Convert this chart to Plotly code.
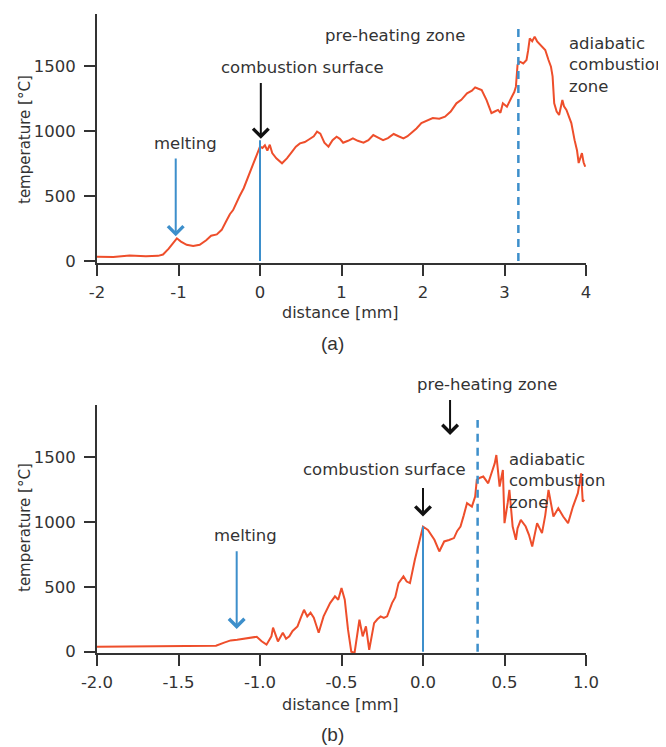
import plotly.graph_objects as go

# ---------------- data ----------------
# panel (a)
dist_a = [-2.0, -1.8, -1.6, -1.4, -1.25, -1.19, -1.12, -1.06, -1.02, -0.97, -0.9, -0.82, -0.74,
          -0.66, -0.6, -0.53, -0.47, -0.42, -0.37, -0.33, -0.29, -0.25, -0.2, -0.16, -0.12,
          -0.08, -0.04, 0.0, 0.03, 0.06, 0.09, 0.12, 0.15, 0.2, 0.27, 0.33, 0.38, 0.44, 0.49,
          0.55, 0.6, 0.66, 0.7, 0.74, 0.79, 0.84, 0.89, 0.94, 0.98, 1.02, 1.08, 1.14, 1.2,
          1.27, 1.33, 1.39, 1.45, 1.51, 1.57, 1.64, 1.7, 1.76, 1.81, 1.86, 1.92, 1.98, 2.05,
          2.12, 2.2, 2.27, 2.34, 2.41, 2.47, 2.54, 2.6, 2.64, 2.68, 2.72, 2.78, 2.84, 2.88,
          2.92, 2.95, 2.98, 3.03, 3.06, 3.09, 3.12, 3.14, 3.16, 3.19, 3.23, 3.27, 3.29, 3.31,
          3.34, 3.37, 3.4, 3.44, 3.47, 3.5, 3.54, 3.57, 3.59, 3.61, 3.64, 3.67, 3.71, 3.73,
          3.76, 3.79, 3.82, 3.86, 3.89, 3.91, 3.93, 3.95, 3.97, 3.99]
temp_a = [33, 32, 42, 36, 40, 50, 95, 140, 175, 150, 125, 115, 125, 160, 195, 205, 240, 300,
          360, 392, 450, 500, 560, 623, 680, 754, 820, 880, 870, 890, 850, 895, 830, 790, 752,
          790, 830, 880, 905, 915, 935, 960, 995, 980, 910, 880, 930, 956, 940, 910, 925, 944,
          925, 910, 930, 969, 950, 930, 945, 977, 960, 944, 960, 985, 1020, 1061, 1080, 1100,
          1095, 1110, 1150, 1213, 1240, 1290, 1310, 1336, 1325, 1315, 1238, 1138, 1150, 1162,
          1140, 1213, 1187, 1230, 1264, 1300, 1341, 1508, 1533, 1520, 1546, 1620, 1713, 1690,
          1726, 1690, 1662, 1640, 1623, 1546, 1495, 1420, 1213, 1150, 1123, 1238, 1190, 1162,
          1110, 1061, 930, 850, 754, 800, 830, 760, 725]

# panel (b)
dist_b = [-2.0, -1.8, -1.6, -1.4, -1.27, -1.22, -1.18, -1.14, -1.1, -1.06, -1.02, -0.99,
          -0.96, -0.93, -0.92, -0.89, -0.86, -0.84, -0.82, -0.8, -0.77, -0.75, -0.73, -0.71,
          -0.69, -0.67, -0.64, -0.61, -0.59, -0.57, -0.54, -0.52, -0.5, -0.48, -0.46, -0.44,
          -0.42, -0.4, -0.39, -0.37, -0.35, -0.33, -0.3, -0.28, -0.26, -0.24, -0.22, -0.19,
          -0.17, -0.15, -0.12, -0.1, -0.08, -0.05, -0.02, 0.0, 0.03, 0.05, 0.07, 0.1, 0.13,
          0.16, 0.19, 0.21, 0.23, 0.25, 0.27, 0.3, 0.32, 0.33, 0.35, 0.37, 0.4, 0.42, 0.44,
          0.45, 0.47, 0.49, 0.5, 0.52, 0.53, 0.55, 0.57, 0.58, 0.6, 0.63, 0.65, 0.67, 0.7,
          0.73, 0.75, 0.77, 0.8, 0.83, 0.86, 0.89, 0.92, 0.95, 0.97, 0.98, 0.99]
temp_b = [38, 39, 41, 44, 46, 70, 87, 92, 100, 105, 115, 80, 54, 118, 185, 79, 146, 100, 118,
          160, 195, 260, 323, 272, 300, 262, 146, 272, 330, 374, 426, 400, 490, 400, 170, 0,
          -10, 150, 246, 118, 195, 15, 220, 250, 272, 260, 272, 374, 420, 528, 580, 540, 528,
          708, 862, 964, 938, 900, 862, 772, 849, 860, 875, 930, 964, 1050, 1144, 1118, 1195,
          1323, 1340, 1349, 1297, 1374, 1450, 1515, 1272, 1400, 990, 1150, 1246, 964, 862,
          950, 1015, 964, 900, 810, 990, 913, 1050, 1246, 1041, 1105, 1041, 990, 1118, 1221,
          1374, 1156, 1169]

# reference lines: (solid at combustion surface, dashed at adiabatic boundary)
surf_a, zone_a = 0.0, 3.17
surf_b, zone_b = 0.0, 0.335
surf_top_a, zone_top_a = 930, 1790
surf_top_b, zone_top_b = 964, 1785

xticks_a = [-2, -1, 0, 1, 2, 3, 4]
xlabels_a = ["-2", "-1", "0", "1", "2", "3", "4"]
xticks_b = [-2.0, -1.5, -1.0, -0.5, 0.0, 0.5, 1.0]
xlabels_b = ["-2.0", "-1.5", "-1.0", "-0.5", "0.0", "0.5", "1.0"]
yticks = [0, 500, 1000, 1500]

# ---------------- styling ----------------
OFF = 8                      # page body margin
W, H = 666 - OFF, 747 - OFF
RED = "#EE4E2B"
BLUE = "#3D8FCB"
AX = "#333333"
FONT = "DejaVu Sans"
FS = 16.5

def px(x):
    return (x - OFF) / W

def py(y):
    return 1 - (y - OFF) / H

fig = go.Figure()
fig.add_trace(go.Scatter(x=dist_a, y=temp_a, mode="lines", line=dict(color=RED, width=2),
                         xaxis="x", yaxis="y", showlegend=False))
fig.add_trace(go.Scatter(x=dist_b, y=temp_b, mode="lines", line=dict(color=RED, width=2),
                         xaxis="x2", yaxis="y2", showlegend=False))

# vertical reference lines
fig.add_trace(go.Scatter(x=[surf_a, surf_a], y=[0, surf_top_a], mode="lines",
                         line=dict(color=BLUE, width=2), xaxis="x", yaxis="y", showlegend=False))
fig.add_trace(go.Scatter(x=[zone_a, zone_a], y=[0, zone_top_a], mode="lines",
                         line=dict(color=BLUE, width=2.5, dash="8px,6px"), xaxis="x", yaxis="y",
                         showlegend=False))
fig.add_trace(go.Scatter(x=[surf_b, surf_b], y=[0, surf_top_b], mode="lines",
                         line=dict(color=BLUE, width=2), xaxis="x2", yaxis="y2", showlegend=False))
fig.add_trace(go.Scatter(x=[zone_b, zone_b], y=[0, zone_top_b], mode="lines",
                         line=dict(color=BLUE, width=2.5, dash="8px,6px"), xaxis="x2", yaxis="y2",
                         showlegend=False))

axis_common = dict(showgrid=False, zeroline=False, showline=True, linecolor=AX, linewidth=2,
                   ticks="outside", ticklen=11, tickwidth=2, tickcolor=AX, automargin=False,
                   tickfont=dict(family=FONT, size=FS, color=AX))

fig.update_layout(
    width=W, height=H, margin=dict(l=0, r=0, t=0, b=0, pad=0),
    paper_bgcolor="white", plot_bgcolor="white",
    xaxis=dict(domain=[px(97), px(586)], range=[-2, 4], tickvals=xticks_a, ticktext=xlabels_a,
               anchor="y", ticklabelstandoff=2, **axis_common),
    yaxis=dict(domain=[py(263), py(14)], range=[-15, 1900], tickvals=yticks, anchor="x",
               ticklabelstandoff=5, **axis_common),
    xaxis2=dict(domain=[px(97), px(586)], range=[-2, 1], tickvals=xticks_b, ticktext=xlabels_b,
                anchor="y2", ticklabelstandoff=2, **axis_common),
    yaxis2=dict(domain=[py(653), py(405)], range=[-10, 1900], tickvals=yticks, anchor="x2",
                ticklabelstandoff=5, **axis_common),
)

ann = []

def label(text, x, y, xanchor="center", angle=0, size=FS, family=FONT):
    ann.append(dict(text=text, x=px(x), y=py(y), xref="paper", yref="paper", showarrow=False,
                    xanchor=xanchor, yanchor="middle", textangle=angle, align=xanchor,
                    font=dict(family=family, size=size, color=AX)))

def arrow(xr, yr, x, y0, y1, color):
    ann.append(dict(x=x, y=y1, ax=x, ay=y0, xref=xr, yref=yr, axref=xr, ayref=yr,
                    showarrow=True, arrowhead=4, arrowsize=1.5, arrowwidth=2,
                    arrowcolor=color, text=""))

# panel (a)
label("temperature [°C]", 25, 140, angle=-90, size=15)
label("distance [mm]", 340, 312, size=16)
label("(a)", 332, 343, size=19, family="Liberation Sans")
label("melting", 185, 143)
label("combustion surface", 302, 67)
label("pre-heating zone", 395, 35)
label("adiabatic<br>combustion<br>zone", 567, 65, xanchor="left")
arrow("x", "y", -1.034, 800, 190, BLUE)
arrow("x", "y", 0.01, 1380, 940, "#111111")

# panel (b)
label("temperature [°C]", 25, 528, angle=-90, size=15)
label("distance [mm]", 340, 704, size=16)
label("(b)", 332, 734, size=19, family="Liberation Sans")
label("melting", 245, 535)
label("combustion surface", 384, 470)
label("pre-heating zone", 487, 384)
label("adiabatic<br>combustion<br>zone", 507, 481, xanchor="left")
arrow("x2", "y2", -1.143, 785, 175, BLUE)
arrow("x2", "y2", 0.0, 1272, 1041, "#111111")
arrow("x2", "y2", 0.166, 1951, 1669, "#111111")

fig.update_layout(annotations=ann)
fig.write_html("out.html")
